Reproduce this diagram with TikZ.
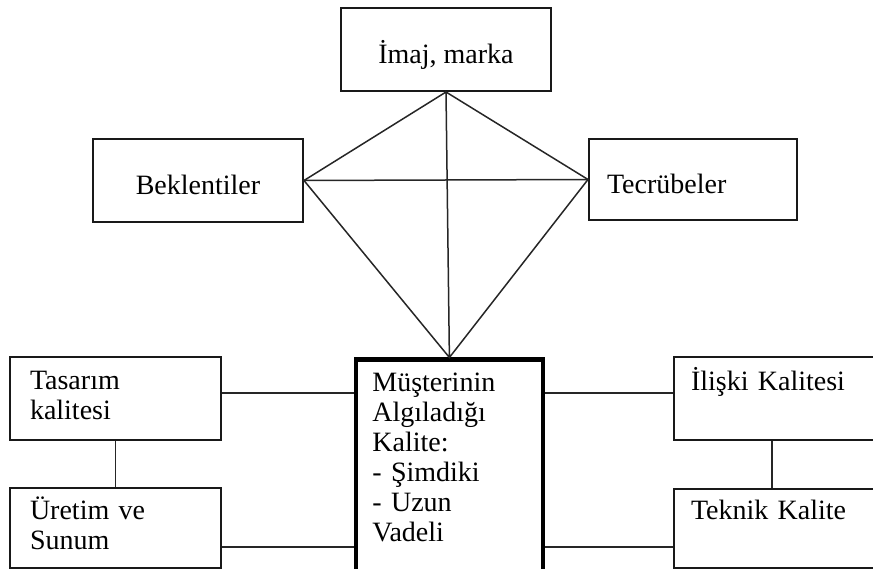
\documentclass[tikz,border=0pt]{standalone}
\usepackage{fontspec}
\setmainfont{Liberation Serif}

\begin{document}
\begin{tikzpicture}[x=1pt,y=-1pt,
  kutu/.style={draw=black!90,line width=2pt,inner ysep=0pt,anchor=north west,font=\fontsize{28}{30}\selectfont},
  tekli/.style={text height=28pt,text depth=0pt},
  cizgi/.style={draw=black!85,line width=1.5pt}]
\useasboundingbox (0,0) rectangle (873,569);
% ust kisim
\node[kutu,tekli,minimum width=210pt,minimum height=83pt,align=center] (imaj) at (340,7) {İmaj, marka};
\node[kutu,tekli,minimum width=210pt,minimum height=83pt,align=center] (bek) at (92,138) {Beklentiler};
\node[kutu,tekli,inner xsep=18pt,text width=172pt,minimum height=81pt,align=left] (tec) at (588,138) {Tecrübeler};
% orta kutu
\node[kutu,draw=black,line width=4.8pt,inner xsep=16.5pt,inner ysep=10.5pt,text width=154pt,align=left] (kalite) at (353.5,357.5)
  {\strut Müşterinin\\ Algıladığı\\ Kalite:\\ - Şimdiki\\ - Uzun\\ Vadeli\\ \strut};
% sol ve sag kutular
\node[kutu,inner xsep=20pt,text width=171pt,minimum height=83pt,align=left] (tas) at (9,356) {\strut Tasarım\\ kalitesi\strut};
\node[kutu,inner xsep=20pt,text width=171pt,minimum height=80pt,align=left] (ure) at (9,487) {\strut Üretim ve\\ Sunum\strut};
\node[kutu,inner xsep=17pt,text width=177pt,minimum height=83pt,align=left] (ili) at (673,356) {\strut İlişki Kalitesi\\ \strut};
\node[kutu,inner xsep=17pt,text width=177pt,minimum height=79pt,align=left] (tek) at (673,488) {\strut Teknik Kalite\\ \strut};
% baglantilar
\draw[cizgi] (imaj.south) -- (bek.east) -- (kalite.north) -- (tec.west) -- (imaj.south) -- (kalite.north);
\draw[cizgi] (bek.east) -- (tec.west);
\draw[cizgi] ([yshift=5.5pt]tas.east) -- ([yshift=5.5pt]tas.east -| kalite.west);
\draw[cizgi] ([yshift=-19pt]ure.east) -- ([yshift=-19pt]ure.east -| kalite.west);
\draw[cizgi] ([yshift=5.5pt]ili.west) -- ([yshift=5.5pt]ili.west -| kalite.east);
\draw[cizgi] ([yshift=-18.5pt]tek.west) -- ([yshift=-18.5pt]tek.west -| kalite.east);
\draw[cizgi] (tas.south) -- (ure.north);
\draw[cizgi] ([xshift=-7.5pt]ili.south) -- ([xshift=-7.5pt]ili.south |- tek.north);
\end{tikzpicture}
\end{document}
